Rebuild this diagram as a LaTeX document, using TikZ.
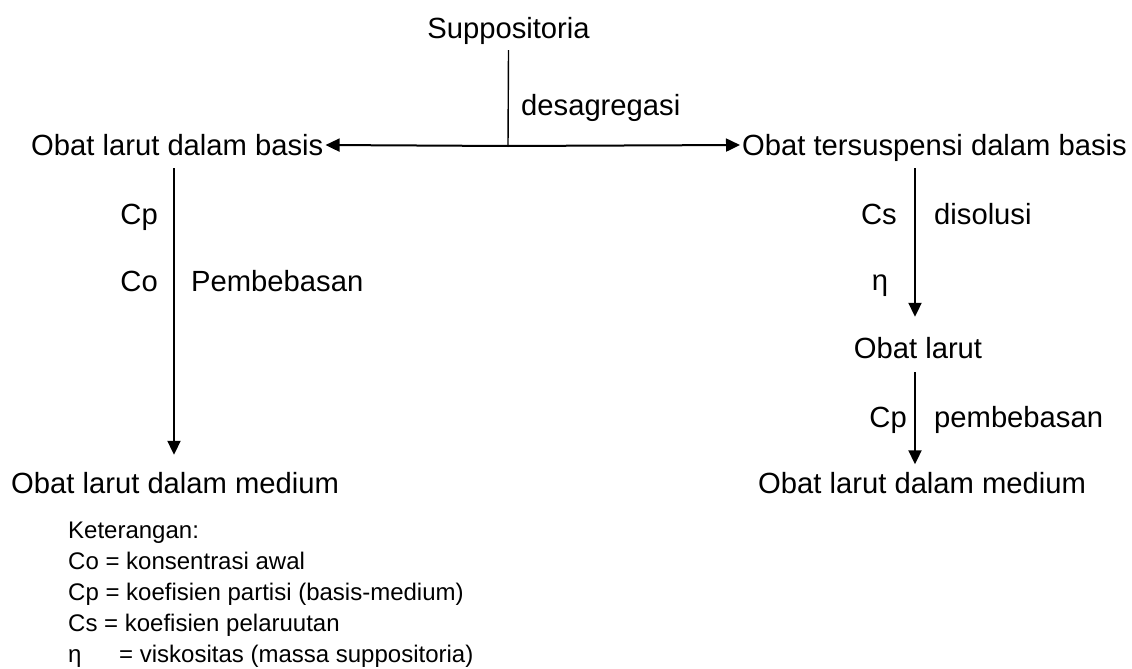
\documentclass[tikz,border=0pt]{standalone}
\usepackage{fontspec}
\setmainfont{Liberation Sans}
\usetikzlibrary{arrows.meta}
\tikzset{
  big/.style={font=\fontsize{29.2pt}{35pt}\selectfont, inner sep=0pt, text height=21pt, text depth=0pt},
  lab/.style={big},
  leg/.style={font=\fontsize{24pt}{30pt}\selectfont, inner sep=0pt, anchor=base west},
  arr/.style={line width=2pt, -{Triangle[length=14pt,width=13pt]}},
  stub/.style={line width=1.4pt}
}
\begin{document}
\begin{tikzpicture}[x=1pt,y=-1pt]
\useasboundingbox (0,0) rectangle (1132,669);
% main nodes
\node[big] (sup) at (508.5,28) {Suppositoria};
\node[big, anchor=west] (lbas) at (31,145) {Obat larut dalam basis};
\node[big, anchor=west] (rbas) at (742,145) {Obat tersuspensi dalam basis};
\node[big, anchor=west] (lmed) at (11,483) {Obat larut dalam medium};
\node[big] (olar) at (918,348) {Obat larut};
\node[big, anchor=west] (rmed) at (758,483) {Obat larut dalam medium};
% labels
\node[lab, anchor=west] (desag) at (521,105) {desagregasi};
\node[lab, anchor=east] (cpl) at (158,214) {Cp};
\node[lab, anchor=east] (col) at (158,281) {Co};
\node[lab, anchor=west] (pemb) at (191,281) {Pembebasan};
\node[lab, anchor=east] (csr) at (897,214) {Cs};
\node[lab, anchor=west] (disol) at (934,214) {disolusi};
\node[lab] (etar) at (880,280) {η};
\node[lab, anchor=east] (cpr) at (907,417) {Cp};
\node[lab, anchor=west] (pembr) at (934,417) {pembebasan};
% legend
\node[leg] (l1) at (68,538) {Keterangan:};
\node[leg] (l2) at (68,569) {Co = konsentrasi awal};
\node[leg] (l3) at (68,600) {Cp = koefisien partisi (basis-medium)};
\node[leg] (l4) at (68,631) {Cs = koefisien pelaruutan};
\node[leg] (l5) at (68,662) {\makebox[51pt][l]{η}= viskositas (massa suppositoria)};
% connectors
\coordinate (j) at (508,146);
\coordinate (la) at (174,0);
\coordinate (ra) at (915,0);
\draw[stub] ([yshift=-11.5pt]sup.south) -- (j);
\draw[arr] (j) -- ([xshift=2pt]lbas.east);
\draw[arr] (j) -- ([xshift=-2pt]rbas.west);
\draw[arr] ([yshift=-12.5pt]lbas.south -| la) -- ([yshift=17.5pt]lmed.north -| la);
\draw[arr] ([yshift=-12.5pt]rbas.south -| ra) -- ([yshift=20.5pt]olar.north -| ra);
\draw[arr] ([yshift=-13.5pt]olar.south -| ra) -- ([yshift=8pt]rmed.north -| ra);
\end{tikzpicture}
\end{document}
